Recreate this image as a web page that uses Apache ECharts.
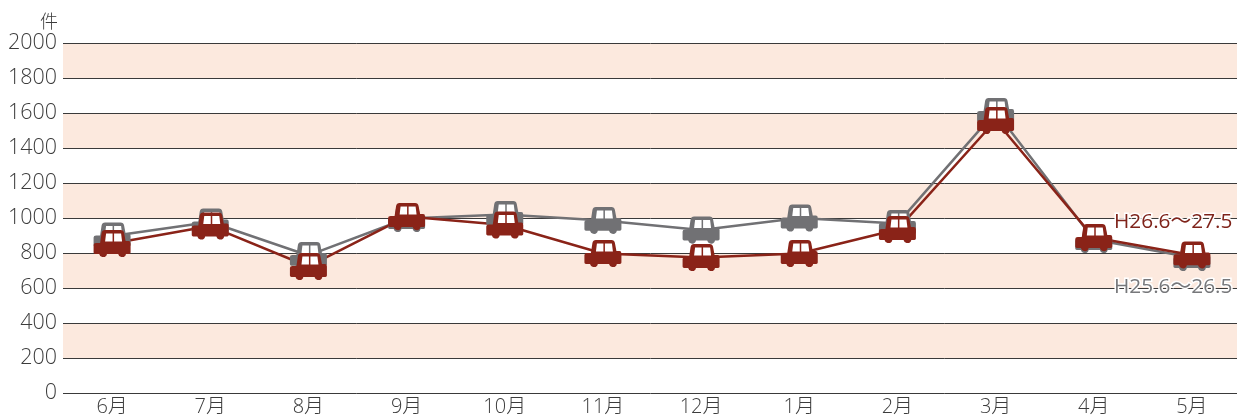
<!DOCTYPE html>
<html><head><meta charset="utf-8">
<style>html,body{margin:0;padding:0;background:#fff}#c{width:1237px;height:418px}</style>
<script src="https://cdn.jsdelivr.net/npm/echarts@6/dist/echarts.min.js"></script>
</head><body><div id="c"></div>
<script>
const categories=['6月','7月','8月','9月','10月','11月','12月','1月','2月','3月','4月','5月'];
const previousYear=[897,977,786,997,1020,986,931,1000,968,1608,877,774];
const currentYear=[854,954,723,1008,960,797,774,797,934,1557,888,789];
const yTicks=[0,200,400,600,800,1000,1200,1400,1600,1800,2000];
const currentName='H26.6～27.5', previousName='H25.6～26.5';
const FONT='"Open Sans","Noto Sans CJK JP",sans-serif';
const car='path://M0 15 Q0 13 2.500 13 L6.500 13 L8 3 Q8.500 0 11.500 0 L27 0 Q30 0 30.500 3 L32 11 L35 11 Q37 11 37 13.500 L37 22.500 Q37 24 35.500 24 L32.400 24 A4 4 0 0 1 24.600 24 L13.400 24 A4 4 0 0 1 5.600 24 L1.500 24 Q0 24 0 22.500 Z M12.500 3.500 L11.500 11.500 L19 11.500 L19 3.500 Z M20.500 3.500 L20.500 11.500 L28.500 11.500 L27.500 3.500 Z';
const windowPane='path://M0 0 L16 0 L16 7 L0 7 Z';
function withLabel(values,name,color,dy){
  return values.map((v,i)=>i===values.length-1?{value:v,label:{show:true,formatter:name,position:'left',distance:0,offset:[59,dy],color:color,fontFamily:FONT,fontSize:20.8,textBorderColor:'#fff',textBorderWidth:3}}:v);
}
function carSeries(values,name,color,labelColor,dy){
  return [
    {type:'line',data:values,symbol:windowPane,symbolSize:[18,9],symbolOffset:[1.75,-6],showAllSymbol:true,
     lineStyle:{width:0,opacity:0},itemStyle:{color:'#fff'},silent:true},
    {type:'line',name:name,data:withLabel(values,name,labelColor,dy),
     symbol:car,symbolSize:[37,27],showAllSymbol:true,
     lineStyle:{color:color,width:2.5},itemStyle:{color:color}}
  ];
}
const chart=echarts.init(document.getElementById('c'),null,{renderer:'canvas'});
chart.setOption({
  animation:false,
  grid:{left:63,width:1178,top:43,height:350,outerBoundsMode:'none'},
  xAxis:{type:'category',data:categories,axisTick:{show:false},
    axisLine:{show:false},
    axisLabel:{color:'#3c3c3c',fontSize:20,fontFamily:FONT,fontWeight:300,margin:4}},
  yAxis:{type:'value',min:0,max:2000,interval:200,name:'件',
    nameLocation:'end',nameGap:6,
    nameTextStyle:{color:'#3c3c3c',fontSize:18,fontFamily:FONT,fontWeight:300,align:'right',padding:[0,5,0,0]},
    axisLine:{show:false},axisTick:{show:false},
    axisLabel:{color:'#3c3c3c',fontSize:21.5,fontFamily:FONT,fontWeight:300,margin:6,
      formatter:v=>yTicks.includes(v)?String(v):''},
    splitLine:{show:true,lineStyle:{color:'#3a3a3a',width:1}},
    splitArea:{show:true,areaStyle:{color:['#ffffff','#fce9de']}}},
  series:[
    ...carSeries(previousYear,previousName,'#717174','#77787b',29.5),
    ...carSeries(currentYear,currentName,'#8a2318','#7f231a',-33)
  ]
});
</script></body></html>
